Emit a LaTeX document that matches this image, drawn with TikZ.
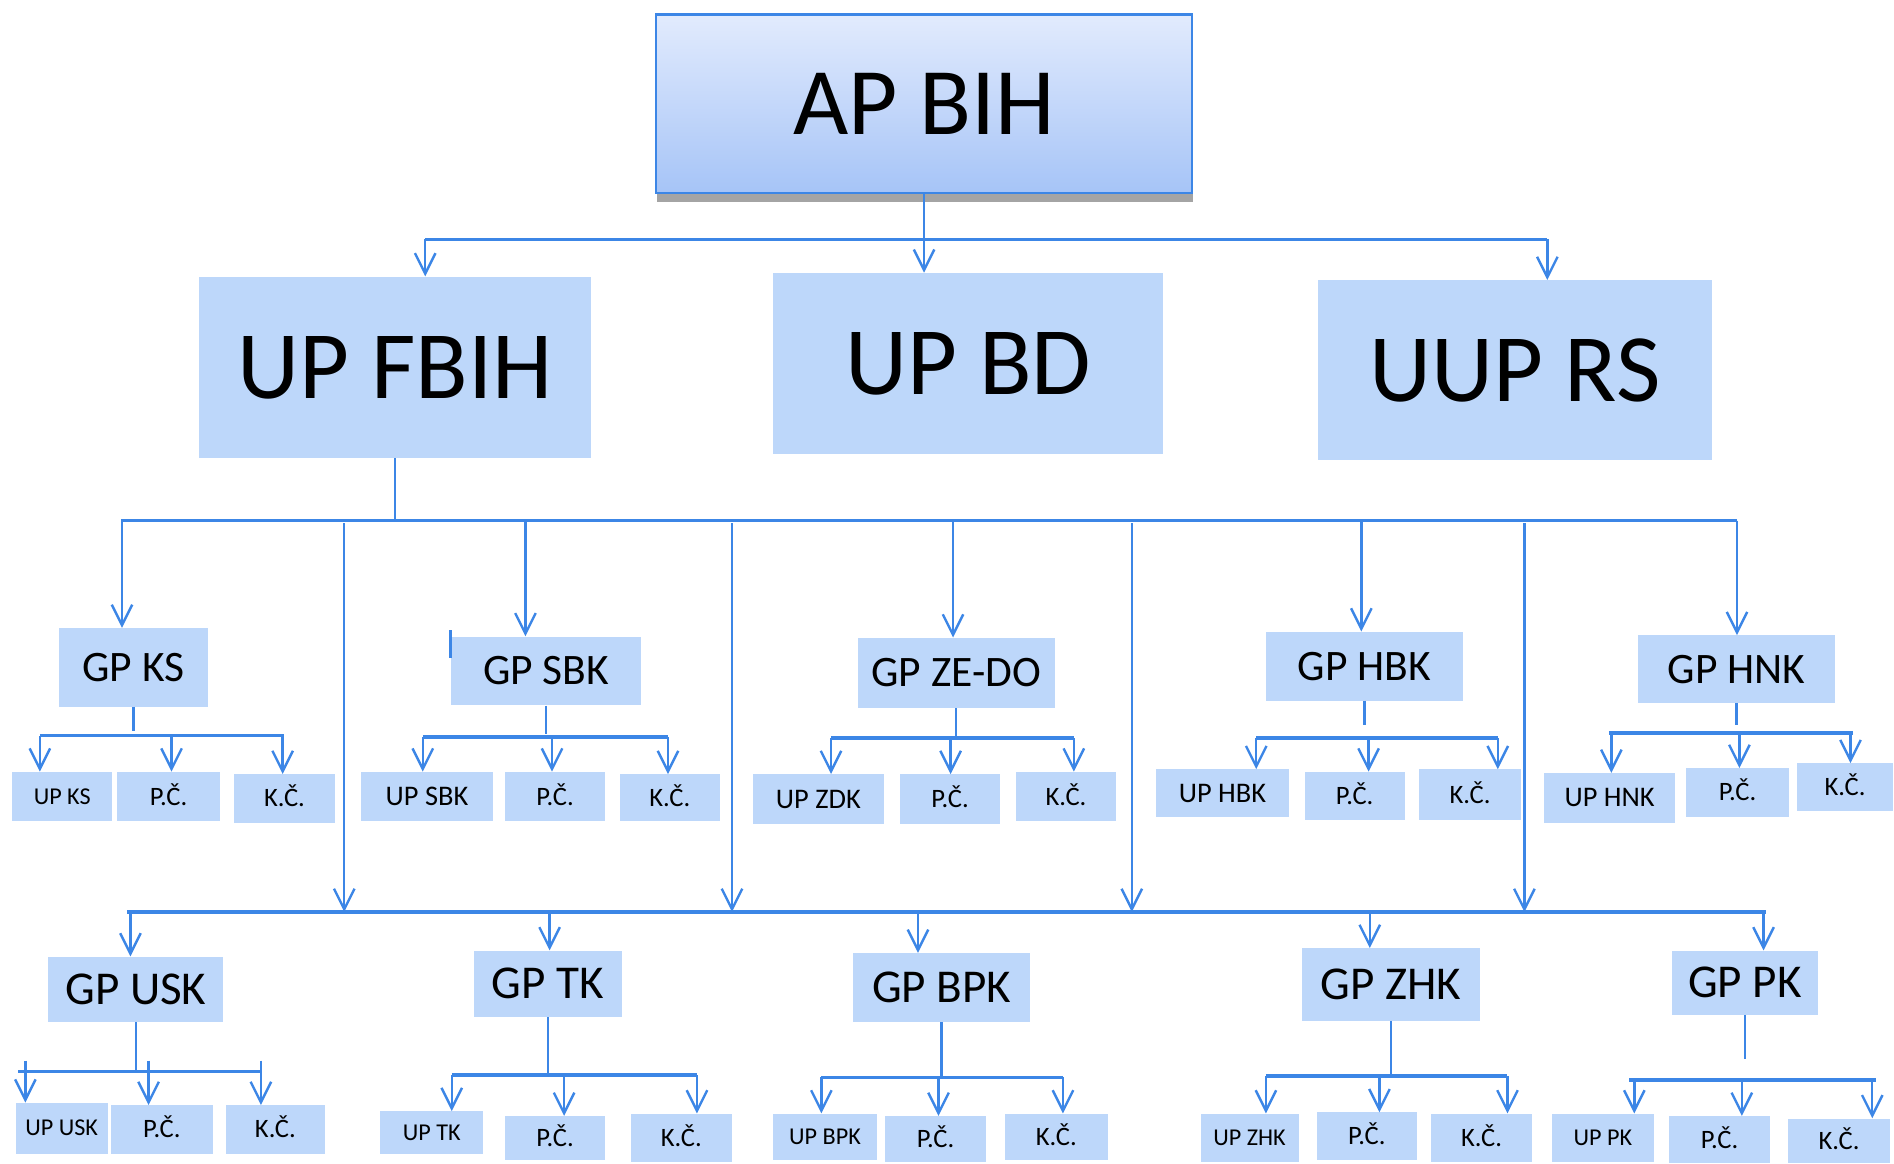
\documentclass[tikz,border=0pt]{standalone}
\usepackage{fontspec}
\setmainfont{Carlito}
\usetikzlibrary{arrows.meta,shadows}
\definecolor{lnc}{RGB}{60,134,230}
\definecolor{boxc}{RGB}{189,215,250}
\definecolor{topc}{RGB}{226,235,253}
\definecolor{botc}{RGB}{166,196,247}
\newcommand\bx[7]{\node[#7, minimum width={(#4-#2)*1pt}, minimum height={(#5-#3)*1pt}] (#1) at ({(#2+#4)/2},{(#3+#5)/2}) {#6};}
% #1 parent, #2 bus y, #3 left x, #4 right x, #5-#7 arrow x, #8 stem end y, #9 arrow start y
\newcommand\grp[9]{%
  \coordinate (#1-l) at (#3,#2);
  \coordinate (#1-r) at (#4,#2);
  \coordinate (#1-s) at (#1.south |- 0,#8);
  \draw[ln] (#1.south) -- (#1-s);
  \draw[bus] (#1-l) -- (#1-r);
  \coordinate (#1-a1) at (#5,#9);
  \coordinate (#1-a2) at (#6,#9);
  \coordinate (#1-a3) at (#7,#9);
  \draw[arr] (#1-a1) -- (#1-a1 |- #11.north);
  \draw[arr] (#1-a2) -- (#1-a2 |- #12.north);
  \draw[arr] (#1-a3) -- (#1-a3 |- #13.north);
}
\tikzset{
  box/.style={fill=boxc, inner sep=0pt, text depth=0pt},
  big/.style={box, text height=51pt, font=\fontsize{80}{80}\selectfont},
  gpa/.style={box, text height=23pt, font=\fontsize{36}{36}\selectfont},
  gpb/.style={box, text height=25pt, font=\fontsize{39}{39}\selectfont},
  sma/.style={box, text height=14pt, font=\fontsize{22}{22}\selectfont},
  smb/.style={box, text height=12.8pt, font=\fontsize{20}{20}\selectfont},
  smc/.style={box, text height=15pt, font=\fontsize{23.5}{23.5}\selectfont},
  ln/.style={draw=lnc, line width=2pt},
  bus/.style={draw=lnc, line width=3pt},
  arr/.style={ln, -{Straight Barb[length=17pt,width=17pt]}},
}
\begin{document}
\begin{tikzpicture}[x=1pt,y=-1pt]
\useasboundingbox (0,0) rectangle (1568,963);
% level 1
\bx{ap}{543}{12}{987}{160}{AP BIH}{top color=topc, bottom color=botc, draw=lnc, line width=2pt,
  drop shadow={shadow xshift=1pt, shadow yshift=-7pt, fill=black!65, opacity=0.55},
  inner sep=0pt, text height=50.5pt, text depth=0pt, font=\fontsize{79}{79}\selectfont}
% level 2
\bx{fbih}{165}{229}{489}{379}{UP FBIH}{big}
\bx{upbd}{640}{226}{963}{376}{UP BD}{big}
\bx{uuprs}{1091}{232}{1417}{381}{UUP RS}{big}
% level 3, row 1
\bx{ks}{49}{520}{172}{585}{GP KS}{gpa}
\bx{sbk}{373}{527}{531}{584}{GP SBK}{gpa}
\bx{zedo}{710}{528}{873}{586}{GP ZE-DO}{gpa}
\bx{hbk}{1048}{523}{1211}{580}{GP HBK}{gpa}
\bx{hnk}{1356}{526}{1519}{582}{GP HNK}{gpa}
% level 3, row 2
\bx{usk}{40}{792}{185}{846}{GP USK}{gpb}
\bx{tk}{392}{787}{515}{842}{GP TK}{gpb}
\bx{bpk}{706}{789}{853}{846}{GP BPK}{gpb}
\bx{zhk}{1078}{785}{1225}{845}{GP ZHK}{gpb}
\bx{pk}{1384}{787}{1505}{840}{GP PK}{gpb}
% small boxes row 1
\bx{ks1}{10}{639}{93}{680}{UP KS}{smb}
\bx{ks2}{97}{639}{182}{680}{P.Č.}{sma}
\bx{ks3}{194}{641}{277}{681}{K.Č.}{sma}
\bx{sbk1}{299}{639}{408}{680}{UP SBK}{smc}
\bx{sbk2}{418}{639}{501}{680}{P.Č.}{sma}
\bx{sbk3}{513}{641}{596}{680}{K.Č.}{sma}
\bx{zedo1}{623}{641}{732}{682}{UP ZDK}{smc}
\bx{zedo2}{745}{641}{828}{682}{P.Č.}{sma}
\bx{zedo3}{841}{639}{924}{680}{K.Č.}{sma}
\bx{hbk1}{957}{637}{1067}{676}{UP HBK}{smc}
\bx{hbk2}{1080}{639}{1163}{679}{P.Č.}{sma}
\bx{hbk3}{1175}{637}{1259}{679}{K.Č.}{sma}
\bx{hnk1}{1278}{640}{1387}{681}{UP HNK}{smc}
\bx{hnk2}{1396}{636}{1481}{676}{P.Č.}{sma}
\bx{hnk3}{1488}{632}{1567}{671}{K.Č.}{sma}
% small boxes row 2
\bx{usk1}{13}{913}{89}{955}{UP USK}{smb}
\bx{usk2}{92}{915}{176}{955}{P.Č.}{sma}
\bx{usk3}{187}{915}{269}{955}{K.Č.}{sma}
\bx{tk1}{315}{920}{400}{955}{UP TK}{smb}
\bx{tk2}{418}{924}{501}{960}{P.Č.}{sma}
\bx{tk3}{522}{922}{606}{962}{K.Č.}{sma}
\bx{bpk1}{640}{922}{726}{960}{UP BPK}{smb}
\bx{bpk2}{733}{924}{816}{962}{P.Č.}{sma}
\bx{bpk3}{832}{922}{917}{960}{K.Č.}{sma}
\bx{zhk1}{994}{922}{1075}{962}{UP ZHK}{smb}
\bx{zhk2}{1090}{921}{1173}{960}{P.Č.}{sma}
\bx{zhk3}{1185}{922}{1268}{962}{K.Č.}{sma}
\bx{pk1}{1285}{922}{1369}{962}{UP PK}{smb}
\bx{pk2}{1382}{924}{1465}{963}{P.Č.}{sma}
\bx{pk3}{1480}{926}{1565}{963}{K.Č.}{sma}
% top connectors
\coordinate (t1) at (352,198);
\coordinate (t2) at (1281,198);
\draw[arr] (ap.south) -- (ap.south |- upbd.north);
\draw[ln, line width=2.5pt] (t1) -- (t2);
\draw[arr] (t1) -- (t1 |- fbih.north);
\draw[arr] (t2) -- (t2 |- uuprs.north);
% upper bus
\coordinate (u1) at (100,431);
\coordinate (u2) at (1438,431);
\draw[ln] (fbih.south) -- (fbih.south |- u1);
\draw[bus] (u1) -- (u2);
\foreach \x/\n in {101/ks,435/sbk,789/zedo,1127/hbk,1438/hnk}{
  \coordinate (a-\n) at (\x,431);
  \draw[arr] (a-\n) -- (a-\n |- \n.north);
}
% lower bus
\coordinate (l1) at (105,755);
\coordinate (l2) at (1462,755);
\draw[bus] (l1) -- (l2);
\foreach \x/\i in {285/1,606/2,937/3,1262/4}{
  \coordinate (v-\i) at (\x,433);
  \draw[arr] (v-\i) -- (v-\i |- l1);
}
\foreach \x/\n in {108/usk,455/tk,760/bpk,1134/zhk,1460/pk}{
  \coordinate (b-\n) at (\x,755);
  \draw[arr] (b-\n) -- (b-\n |- \n.north);
}
% stray tick beside GP SBK
\draw[ln] ([yshift=5pt]sbk.north west) -- ([yshift=-18pt]sbk.north west);
% groups
\grp{ks}{609}{33}{235}{33}{142}{234}{605}{609}
\grp{sbk}{610}{350}{553}{350}{457}{553}{608}{610}
\grp{zedo}{611}{688}{889}{688}{787}{889}{611}{611}
\grp{hbk}{611}{1040}{1240}{1040}{1133}{1240}{600}{611}
\grp{hnk}{607}{1332}{1534}{1334}{1440}{1532}{600}{607}
\grp{usk}{887}{15}{216}{21}{123}{216}{887}{878}
\grp{tk}{890}{374}{577}{374}{467}{577}{890}{890}
\grp{bpk}{892}{680}{880}{680}{777}{880}{892}{892}
\grp{zhk}{891}{1048}{1248}{1048}{1142}{1248}{891}{891}
\grp{pk}{894}{1349}{1553}{1353}{1442}{1550}{877}{894}
\end{tikzpicture}
\end{document}
